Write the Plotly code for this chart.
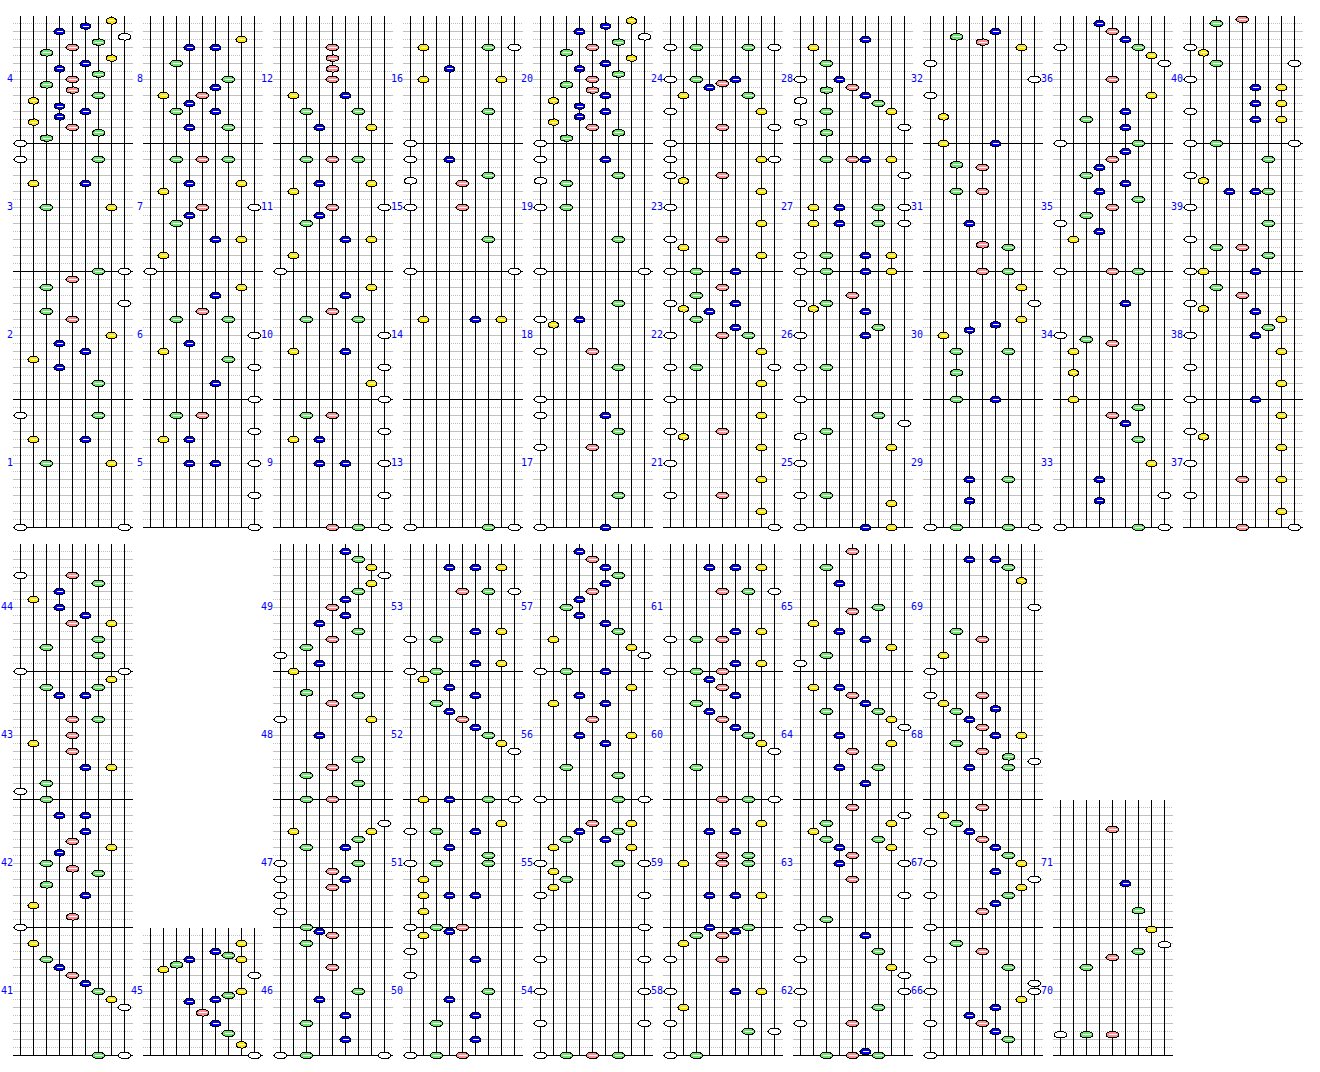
import plotly.graph_objects as go
import math

# Each panel: (string index 0-8, height in grid steps above the panel's baseline)
P1 = [(0,14),(0,0),(1,11),(2,8),(5,11),(6,14),(7,8),(8,0)]
P2 = [(4,15),(2,14),(8,12),(2,11),(4,10),(7,8),(3,7),(5,6),(1,5),(3,4),(6,2)]
P3 = [(0,14),(6,14),(1,11),(5,11),(2,8),(7,8),(6,0),(8,0)]
P4 = [(7,15.33),(5,14.67),(3,14),(8,13.33),(6,12.67),(4,12),(2,11.33),(7,10.67),(5,10),(3,9.33),(6,8.67),(4,8),(2,7.33),(4,6.67),(6,6),(1,5.33),(3,4.67),(5,4),(3,3.33),(1,2.67),(4,2),(6,1.33),(2,0.67),(0,0)]
P5 = [(2,14),(4,14),(1,11),(3,11),(3,8),(5,8),(8,12),(8,8),(8,4),(8,0)]
P6 = [(7,14),(5,13),(4,11),(2,10),(6,10),(8,8),(3,7),(1,6),(6,5),(8,4),(5,2),(8,0)]
P7 = [(2,14),(4,14),(6,14),(3,11),(7,11),(1,10),(4,8),(8,8),(3,7),(2,6),(5,4),(7,4),(1,2),(0,0)]
P8 = [(7,13),(3,12),(5,12),(2,10),(6,8),(5,7),(1,6),(4,6),(3,5),(2,4),(5,4),(3,2),(6,2)]
P9 = [(2,14),(4,14),(8,12),(1,11),(3,11),(3,8),(5,8),(8,8),(8,4),(4,0),(6,0),(8,0)]
P10 = [(7,14),(5,13),(4,11),(2,10),(6,10),(8,8),(1,6),(5,6),(8,4),(7,2),(8,0)]
P11 = [(2,14),(4,14),(6,14),(3,11),(7,11),(1,10),(4,8),(8,8),(3,7),(2,6),(5,4),(7,4),(1,2),(0,0)]
P12 = [(4,12),(4,10.67),(4,9.33),(4,8),(1,6),(5,6),(2,4),(6,4),(3,2),(7,2)]
P13 = [(0,0),(6,0),(8,0)]
P14 = [(1,10),(5,10),(7,10)]
P15 = [(0,14),(3,14),(6,12),(0,11.33),(4,11),(0,8),(4,8),(6,4),(0,0),(8,0)]
P16 = [(1,12),(6,12),(8,12),(3,9.33),(1,8),(7,8),(6,4),(0,0)]
P17 = [(0,14),(5,14),(6,12),(0,10),(4,10),(6,4),(0,0),(5,0)]
P18 = [(6,12),(0,10),(1,9.33),(3,10),(0,6),(4,6),(6,4),(0,0)]
P19 = [(0,14),(5,14),(6,12),(0,11.33),(2,11),(0,8),(2,8),(6,4),(0,0),(8,0)]
P20 = [(7,15.33),(5,14.67),(3,14),(8,13.33),(6,12.67),(4,12),(2,11.33),(7,10.67),(5,10),(3,9.33),(6,8.67),(4,8),(2,7.33),(4,6.67),(5,6),(1,5.33),(3,4.67),(5,4),(3,3.33),(1,2.67),(4,2),(6,1.33),(2,0.67),(0,0)]
P21 = [(7,14),(0,12),(4,12),(1,11.33),(7,10),(0,8),(7,6),(0,4),(4,4),(7,2),(8,0)]
P22 = [(4,14),(2,13),(0,12),(5,12),(1,11.33),(3,11),(2,10),(5,9),(0,8),(4,8),(6,8),(7,6),(0,4),(2,4),(8,4),(7,2),(0,0)]
P23 = [(0,14),(7,14),(8,14),(0,12),(4,12),(1,11.33),(7,10),(0,8),(7,6),(0,4),(4,4),(1,3),(7,2),(0,0),(2,0),(5,0)]
P24 = [(0,12),(2,12),(6,12),(8,12),(0,8),(2,8),(3,7),(4,7.5),(5,8),(1,6),(6,6),(0,4),(7,4),(4,2),(8,2),(0,0)]
P25 = [(6,14),(8,13),(0,11.33),(2,12),(7,10),(0,8),(0,4),(2,4),(7,3),(0,0),(5,0),(7,0)]
P26 = [(4,13),(0,12),(2,12),(1,11.33),(5,11),(6,9),(0,8),(5,8),(0,4),(2,4),(0,0)]
P27 = [(2,14),(4,14),(5,14),(7,14),(8,12),(1,8),(3,8),(6,8),(8,8),(1,6),(3,6),(6,6),(8,6),(0,2),(2,2),(5,2),(7,2),(0,0),(2,0),(5,0),(7,0)]
P28 = [(5,13),(1,12),(2,10),(0,8),(3,8),(2,6.67),(4,7),(5,6),(0,5.33),(6,5),(2,4),(7,4),(0,2.67),(8,2),(2,1.33)]
P29 = [(3,6),(6,6),(3,3.33),(0,0),(2,0),(6,0),(8,0)]
P30 = [(7,14),(8,12),(7,10),(5,9.33),(3,8.67),(1,8),(2,6),(6,6),(2,3.33),(2,0),(5,0)]
P31 = [(2,13.33),(4,13),(2,10),(4,10),(3,6),(4,3.33),(6,3),(4,0),(6,0)]
P32 = [(5,14),(2,13.33),(4,12.67),(7,12),(0,10),(8,8),(0,6),(1,3.33),(1,0),(5,0)]
P33 = [(6,15),(4,14),(5,13),(6,11),(7,8),(3,6),(8,4),(3,3.33),(0,0),(6,0),(8,0)]
P34 = [(5,12),(0,8),(2,7.5),(4,7),(1,6),(1,3.33),(1,0)]
P35 = [(5,15),(4,14),(3,13),(2,12),(5,11),(3,10),(6,9),(4,8),(2,7),(0,6),(3,5),(1,4),(0,0),(4,0),(6,0)]
P36 = [(3,15),(4,14),(5,13),(0,12),(6,12),(7,11),(8,10),(4,8),(7,6),(5,4),(2,3),(5,2),(0,0),(6,0)]
P37 = [(7,14),(0,12),(1,11.33),(7,10),(0,8),(4,6),(7,6),(0,4),(7,2),(4,0),(8,0)]
P38 = [(2,14),(4,13),(0,12),(1,11.33),(5,11),(7,10),(6,9),(0,8),(5,8),(7,6),(0,4),(7,2),(0,0),(5,0)]
P39 = [(6,14),(0,12),(1,11.33),(3,10),(5,10),(6,10),(0,8),(6,6),(0,4),(2,3),(4,3),(6,2),(0,0),(1,0),(5,0)]
P40 = [(4,15.5),(2,15),(0,12),(1,11.33),(2,10),(8,10),(0,8),(5,7),(7,7),(5,5),(7,5),(0,4),(5,3),(7,3),(0,0),(2,0),(8,0)]
P41 = [(1,14),(2,12),(3,11),(4,10),(5,9),(6,8),(7,7),(8,6),(6,0),(8,0)]
P42 = [(3,14),(5,14),(5,12),(4,10.75),(7,10),(3,9.33),(2,8),(4,7.33),(6,6.75),(2,5.33),(5,4),(1,2.75),(4,1.33),(0,0)]
P43 = [(7,15),(2,14),(6,14),(3,13),(5,13),(4,10),(6,10),(4,8),(1,7),(4,6),(5,4),(7,4),(2,2),(0,1),(2,0)]
P44 = [(0,12),(4,12),(6,11),(3,10),(1,9),(3,8),(5,7),(4,6),(7,6),(6,4),(2,3),(6,2),(0,0),(8,0)]
P45 = [(7,14),(5,13),(6,12.5),(3,12),(7,12),(2,11.33),(1,10.75),(8,10),(7,8),(6,7.5),(5,7),(3,6.75),(4,5.33),(5,4),(6,2.75),(7,1.33),(8,0)]
P46 = [(3,15.5),(4,15),(2,14),(4,11),(6,8),(3,7),(5,5),(2,4),(5,2),(0,0),(2,0),(8,0)]
P47 = [(8,13),(1,12),(7,12),(6,11),(2,10),(5,10),(0,8),(6,8),(4,7),(0,6),(5,6),(4,5),(0,4),(0,2),(2,0)]
P48 = [(2,13.33),(6,13),(4,12),(0,10),(7,10),(3,8),(6,5),(4,4),(2,3),(6,2),(2,0),(4,0)]
P49 = [(5,15),(6,14),(7,13),(8,12),(7,11),(6,10),(5,9),(4,8),(5,7),(3,6),(6,5),(4,4),(2,3),(0,2),(3,1),(1,0)]
P50 = [(3,15.5),(1,15),(0,13),(5,12),(0,10),(6,8),(3,7),(5,5),(2,4),(5,2),(0,0),(2,0),(4,0)]
P51 = [(7,13),(0,12),(2,12),(5,12),(3,10),(6,9),(0,8),(2,8),(6,8),(1,6),(1,4),(3,4),(5,4),(1,2),(0,0),(2,0),(4,0)]
P52 = [(1,15),(3,14),(5,13),(2,12),(3,11),(4,10),(5,9),(6,8),(7,7),(8,6),(1,0),(3,0),(6,0),(8,0)]
P53 = [(3,13),(5,13),(7,13),(4,10),(6,10),(8,10),(5,5),(7,5),(0,4),(2,4),(5,1),(7,1),(0,0),(2,0)]
P54 = [(0,12),(8,12),(0,8),(8,8),(0,4),(8,4),(0,0),(2,0),(4,0),(6,0)]
P55 = [(4,13),(7,13),(3,12),(6,12),(2,11),(5,11),(1,10),(7,10),(0,8),(6,8),(8,8),(1,7),(2,6),(1,5),(0,4),(8,4),(0,0),(8,0)]
P56 = [(7,14),(3,13),(1,12),(5,12),(4,10),(3,8),(7,8),(5,7),(2,4),(6,3),(0,0),(6,0),(8,0)]
P57 = [(3,15),(4,14),(5,13),(6,12),(5,11),(4,10),(3,9),(2,8),(3,7),(5,6),(6,5),(1,4),(7,3),(8,2),(0,0),(2,0),(5,0)]
P58 = [(2,15),(4,15),(5,15.5),(1,14),(0,12),(4,12),(0,8),(5,8),(7,8),(1,6),(0,4),(6,3),(8,3),(0,0),(2,0)]
P59 = [(7,13),(3,12),(5,12),(4,9),(6,9),(1,8),(4,8),(6,8),(3,4),(5,4),(7,4),(3,0),(6,0)]
P60 = [(3,15),(4,14),(5,13),(2,12),(3,11),(4,10),(5,9),(6,8),(7,7),(8,6),(2,4),(4,0),(6,0),(8,0)]
P61 = [(3,13),(5,13),(7,13),(4,10),(6,10),(8,10),(5,5),(7,5),(0,4),(2,4),(4,4),(5,1),(7,1),(0,0),(2,0),(4,0)]
P62 = [(5,15),(6,13),(0,12),(7,11),(8,10),(0,8),(8,8),(6,6),(0,4),(4,4),(2,0),(4,0),(5,0.5),(6,0)]
P63 = [(4,15),(8,14),(2,13),(7,13),(1,12),(2,11),(6,11),(3,10),(7,10),(4,9),(3,8),(8,8),(4,6),(8,4),(2,1),(0,0)]
P64 = [(1,14),(3,14),(4,13),(5,12),(2,11),(6,11),(7,10),(8,9),(3,8),(7,7),(4,6),(3,4),(6,4),(5,2)]
P65 = [(4,15),(2,13),(3,11),(6,8),(4,7.5),(1,6),(3,5),(5,4),(7,3),(2,2),(0,1)]
P66 = [(2,14),(4,13),(0,12),(6,11),(8,9),(0,8),(8,8),(7,7),(5,6),(3,5),(0,4),(4,4),(5,3),(6,2),(0,0)]
P67 = [(4,15),(1,14),(2,13),(0,12),(3,12),(4,11),(5,10),(6,9),(0,8),(7,8),(5,7),(8,6),(7,5),(0,4),(6,4),(5,3),(4,2),(0,0)]
P68 = [(0,13),(4,13),(1,12),(5,11.33),(2,11),(3,10),(4,9),(5,8),(7,8),(2,7),(4,6),(6,5.33),(8,4.75),(3,4),(6,4)]
P69 = [(3,14),(5,14),(6,13),(7,11.33),(8,8),(2,5),(4,4),(1,2),(0,0)]
P70 = [(7,15.75),(8,13.85),(6,13),(4,12.25),(2,11),(0,2.6),(2,2.6),(4,2.6)]
P71 = [(4,12.25),(5,5.5),(6,2.1)]

PANELS = [P1,P2,P3,P4,P5,P6,P7,P8,P9,P10,P11,P12,P13,P14,P15,P16,P17,P18,P19,P20,
          P21,P22,P23,P24,P25,P26,P27,P28,P29,P30,P31,P32,P33,P34,P35,P36,P37,P38,P39,P40,
          P41,P42,P43,P44,P45,P46,P47,P48,P49,P50,P51,P52,P53,P54,P55,P56,P57,P58,P59,P60,
          P61,P62,P63,P64,P65,P66,P67,P68,P69,P70,P71]
# Number of stacked panels in each column of the two blocks
TOP_STACKS = [4]*10
BOTTOM_STACKS = [4,1,4,4,4,4,4,4,2]

STRING_FILL = ['#ffffff','#ffe800','#70e870','#0000ff','#ff9090','#0000ff','#70e870','#ffe800','#ffffff']
HALF_WIDTH = [6.5,5.5,6.5,5.5,6.5,5.5,6.5,5.5,6.5]

COL_STEP, STR_STEP, LEVEL, LEVELS = 130, 13, 8, 16
LEFT = 20
TOP_BASE, BOTTOM_BASE = 527, 1055

layout_cells = []  # (panel number, column, baseline, is_top_of_stack)
n = 0
for base0, stacks in ((TOP_BASE, TOP_STACKS), (BOTTOM_BASE, BOTTOM_STACKS)):
    for col, k in enumerate(stacks):
        for r in range(k):
            n += 1
            layout_cells.append((n, col, base0 - r*LEVEL*LEVELS, r == k-1))

def sx(col, s): return LEFT + col*COL_STEP + s*STR_STEP + 0.5
def sy(base, v): return base - v*LEVEL + 0.5

solid_x, solid_y, dot_x, dot_y, black_x, black_y, vx, vy = [], [], [], [], [], [], [], []
for num, col, base, top in layout_cells:
    x0, x1 = sx(col, 0)-8, sx(col, 8)+8
    for lv in range(0, LEVELS):
        y = sy(base, lv)
        if lv == 0:
            black_x += [x0, x1, None]; black_y += [y, y, None]
        elif lv % 2 == 0:
            solid_x += [x0, x1, None]; solid_y += [y, y, None]
        else:
            dot_x += [x0, x1, None]; dot_y += [y, y, None]
    for s in range(9):
        vx += [sx(col, s), sx(col, s), None]
        vy += [sy(base, 0), sy(base, LEVELS)+0.5, None]

fig = go.Figure()
fig.add_trace(go.Scatter(x=dot_x, y=dot_y, mode='lines', line=dict(color='#c0c0c0', width=1, dash='1px,1px'), hoverinfo='skip'))
fig.add_trace(go.Scatter(x=solid_x, y=solid_y, mode='lines', line=dict(color='#c0c0c0', width=1), hoverinfo='skip'))
fig.add_trace(go.Scatter(x=black_x, y=black_y, mode='lines', line=dict(color='#000000', width=1), hoverinfo='skip'))
fig.add_trace(go.Scatter(x=vx, y=vy, mode='lines', line=dict(color='#000000', width=1), hoverinfo='skip'))

ANG = [2*math.pi*i/24 for i in range(25)]
for fill in dict.fromkeys(STRING_FILL):
    ox, oy, hx, hy = [], [], [], []
    for num, col, base, top in layout_cells:
        for s, v in PANELS[num-1]:
            if STRING_FILL[s] != fill:
                continue
            cx, cy, a = sx(col, s), sy(base, v), HALF_WIDTH[s]
            ox += [cx + a*math.cos(t) for t in ANG] + [None]
            oy += [cy + 3.3*math.sin(t) for t in ANG] + [None]
            hx += [cx-a+2.5, cx+a-2.5, None]
            hy += [cy, cy, None]
    fig.add_trace(go.Scatter(x=ox, y=oy, mode='lines', fill='toself', fillcolor=fill,
                             line=dict(color='#000000', width=1), hoverinfo='skip'))
    fig.add_trace(go.Scatter(x=hx, y=hy, mode='lines', line=dict(color='#ffffff', width=1), hoverinfo='skip'))

fig.add_trace(go.Scatter(
    x=[sx(c[1], 0)-7.5 for c in layout_cells],
    y=[sy(c[2], 8)-0.5 for c in layout_cells],
    text=[str(c[0]) for c in layout_cells],
    mode='text', textposition='middle left',
    textfont=dict(family='DejaVu Sans Mono', size=10, color='#0000ff'),
    hoverinfo='skip', cliponaxis=False))

fig.update_layout(width=1320, height=1072, margin=dict(l=0, r=0, t=0, b=0),
                  paper_bgcolor='#ffffff', plot_bgcolor='#ffffff', showlegend=False,
                  xaxis=dict(range=[0, 1320], visible=False, fixedrange=True),
                  yaxis=dict(range=[1072, 0], visible=False, fixedrange=True))
fig.write_html("out.html", config={'displayModeBar': False},
               post_script="document.body.style.margin='0';document.body.style.overflow='hidden';"
                           "document.querySelectorAll('.scatterlayer path').forEach(p=>p.style.shapeRendering='crispEdges');")
